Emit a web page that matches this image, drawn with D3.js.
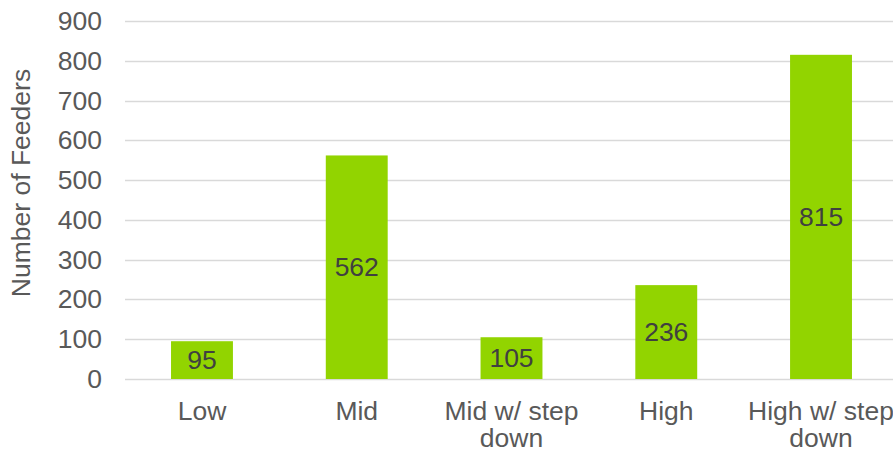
<!DOCTYPE html>
<html>
<head>
<meta charset="utf-8">
<script src="https://cdn.jsdelivr.net/npm/d3@7"></script>
<style>
  html, body { margin: 0; padding: 0; background: #fff; }
  svg { display: block; }
  text { font-family: "Liberation Sans", Arial, sans-serif; }
</style>
</head>
<body>
<svg id="chart" width="893" height="451"></svg>
<script>
const categories = [["Low"], ["Mid"], ["Mid w/ step", "down"], ["High"], ["High w/ step", "down"]];
const values = [95, 562, 105, 236, 815];
const yTicks = [0, 100, 200, 300, 400, 500, 600, 700, 800, 900];
const yTitle = "Number of Feeders";

const svg = d3.select("#chart");
const W = 893, H = 451;
const FS = 26.5;
const plotLeft = 124.6, plotRight = 898.4, plotTop = 21, plotBottom = 379;

const keys = categories.map((c, i) => i);
const x = d3.scaleBand().domain(keys).range([plotLeft, plotRight]).paddingInner(0.6).paddingOuter(0.3);
const y = d3.scaleLinear().domain([0, 900]).range([plotBottom, plotTop]);

// gridlines
svg.append("g").selectAll("line").data(yTicks).join("line")
  .attr("x1", 125).attr("x2", W)
  .attr("y1", d => Math.round(y(d)) + 0.5).attr("y2", d => Math.round(y(d)) + 0.5)
  .attr("stroke", "#d9d9d9").attr("stroke-width", 1.3);

// y axis labels
const yAxis = d3.axisLeft(y).tickValues(yTicks).tickSize(0).tickPadding(0);
const ya = svg.append("g").attr("transform", "translate(102,0)").call(yAxis);
ya.select(".domain").remove();
ya.selectAll("text").attr("font-size", FS).attr("fill", "#595959")
  .attr("font-family", "'Liberation Sans', Arial, sans-serif");

// axis title
svg.append("text")
  .attr("transform", "translate(29.5,183) rotate(-90)")
  .attr("text-anchor", "middle")
  .attr("font-size", FS).attr("fill", "#595959")
  .text(yTitle);

// bars
svg.append("g").selectAll("rect").data(values).join("rect")
  .attr("x", (d, i) => x(i))
  .attr("width", x.bandwidth())
  .attr("y", d => y(d))
  .attr("height", d => y(0) - y(d))
  .attr("fill", "#92D400");

// data labels
svg.append("g").selectAll("text").data(values).join("text")
  .attr("x", (d, i) => x(i) + x.bandwidth() / 2)
  .attr("y", d => (y(d) + y(0)) / 2)
  .attr("dy", "0.35em")
  .attr("text-anchor", "middle")
  .attr("font-size", FS).attr("fill", "#404040")
  .text(d => d);

// category labels (one text per line)
const catLines = [];
categories.forEach((lines, i) => lines.forEach((s, j) => catLines.push({s, i, j})));
svg.append("g").selectAll("text").data(catLines).join("text")
  .attr("x", d => x(d.i) + x.bandwidth() / 2)
  .attr("y", d => 420 + d.j * 26.5)
  .attr("text-anchor", "middle")
  .attr("font-size", FS).attr("fill", "#595959")
  .text(d => d.s);
</script>
</body>
</html>
